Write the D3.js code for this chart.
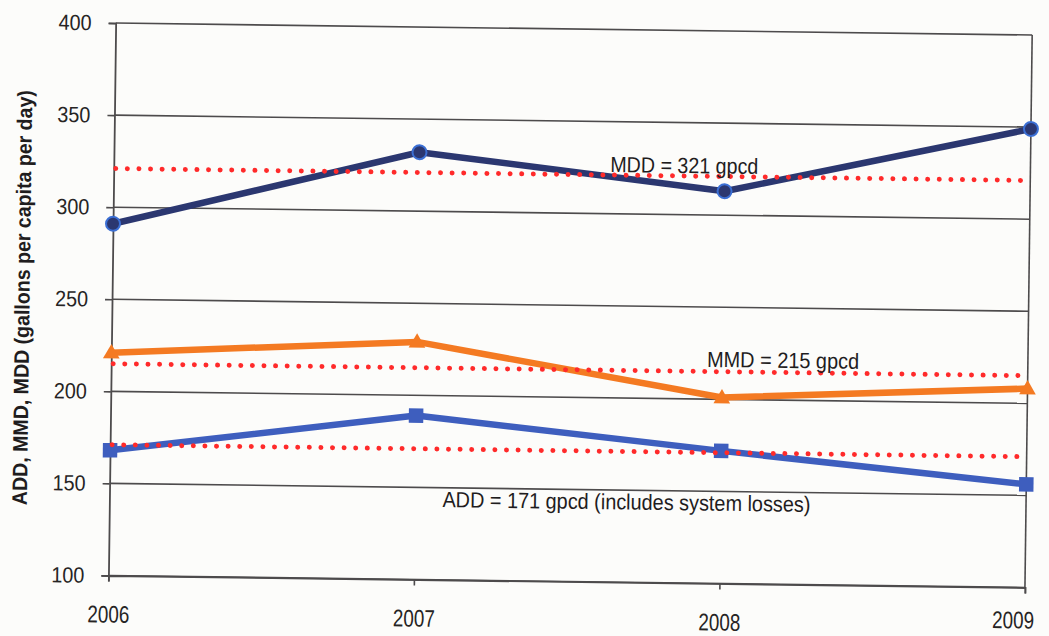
<!DOCTYPE html>
<html>
<head>
<meta charset="utf-8">
<script src="https://cdn.jsdelivr.net/npm/d3@7"></script>
<style>
  body { margin: 0; background: #fcfcfa; }
  svg { display: block; }
</style>
</head>
<body>
<script>
// data
const years = [2006, 2007, 2008, 2009];
const mddValues = [291, 332, 313, 349];
const mmdValues = [221, 229, 201, 208];
const addValues = [168, 189, 172, 156];
const averages = [321, 215, 171];
const averageLabels = ["MDD = 321 gpcd", "MMD = 215 gpcd", "ADD = 171 gpcd (includes system losses)"];
const yTicks = [100, 150, 200, 250, 300, 350, 400];
const yTitle = "ADD, MMD, MDD (gallons per capita per day)";

const width = 1049, height = 636;
const margin = {top: 29, right: 20.4, bottom: 54.5, left: 112};
const innerW = width - margin.left - margin.right;
const innerH = height - margin.top - margin.bottom;

const x = d3.scaleLinear().domain([2006, 2009]).range([0, innerW]);
const y = d3.scaleLinear().domain([100, 400]).range([innerH, 0]);

const svg = d3.select("body").append("svg")
    .attr("width", width)
    .attr("height", height);

svg.append("rect").attr("width", width).attr("height", height).attr("fill", "#fcfcfa");

// the scan is slightly tilted
const page = svg.append("g").attr("transform", "rotate(0.75, 570, 305)");
const g = page.append("g")
    .attr("transform", "translate(" + margin.left + "," + margin.top + ")");

const gridColor = "#4d4b4c";
const font = "'Liberation Sans', Arial, sans-serif";

// horizontal grid lines
g.selectAll(".grid")
    .data(yTicks)
    .enter().append("line")
    .attr("x1", 0).attr("x2", innerW)
    .attr("y1", d => y(d)).attr("y2", d => y(d))
    .attr("stroke", gridColor)
    .attr("stroke-width", 1.6);

// right border
g.append("line")
    .attr("x1", innerW).attr("x2", innerW)
    .attr("y1", 0).attr("y2", innerH)
    .attr("stroke", gridColor).attr("stroke-width", 1.6);

// y axis
const yAxis = g.append("g")
    .call(d3.axisLeft(y).tickValues(yTicks).tickSize(7).tickPadding(17).tickFormat(d3.format("d")));
yAxis.select(".domain").attr("stroke", gridColor).attr("stroke-width", 1.8);
yAxis.selectAll(".tick line").attr("stroke", gridColor).attr("stroke-width", 1.6);
yAxis.selectAll(".tick text")
    .attr("font-family", font)
    .attr("font-size", 22)
    .attr("fill", "#262424")
    .attr("textLength", 33)
    .attr("lengthAdjust", "spacingAndGlyphs");

// x axis
const xAxis = g.append("g")
    .attr("transform", "translate(0," + innerH + ")")
    .call(d3.axisBottom(x).tickValues(years).tickSize(6).tickPadding(24).tickFormat(d3.format("d")));
xAxis.select(".domain").attr("stroke", gridColor).attr("stroke-width", 1.8);
xAxis.selectAll(".tick line").attr("stroke", gridColor).attr("stroke-width", 1.6);
xAxis.selectAll(".tick text")
    .attr("font-family", font)
    .attr("font-size", 24)
    .attr("fill", "#262424")
    .attr("textLength", 42)
    .attr("lengthAdjust", "spacingAndGlyphs")
    .attr("dx", (d, i) => i === years.length - 1 ? -12 : 0)
    .attr("y", (d, i) => i === years.length - 1 ? 24 : 30);

// y axis title
page.append("text")
    .attr("transform", "translate(29.5," + (margin.top + innerH / 2 - 0.5) + ") rotate(-90)")
    .attr("text-anchor", "middle")
    .attr("font-family", font)
    .attr("font-weight", "bold")
    .attr("font-size", 21)
    .attr("fill", "#1f1d1e")
    .attr("textLength", 415)
    .attr("lengthAdjust", "spacingAndGlyphs")
    .text(yTitle);

// series
const series = [
    {values: mddValues, color: "#2b3770", marker: "circle"},
    {values: mmdValues, color: "#f47a22", marker: "triangle"},
    {values: addValues, color: "#3e5ebe", marker: "square"}
];

const line = d3.line()
    .x((d, i) => x(years[i]))
    .y(d => y(d));

series.forEach(s => {
    g.append("path")
        .datum(s.values)
        .attr("fill", "none")
        .attr("stroke", s.color)
        .attr("stroke-width", 6.5)
        .attr("stroke-linejoin", "round")
        .attr("d", line);

    const pts = g.selectAll(null)
        .data(s.values)
        .enter();

    if (s.marker === "circle") {
        pts.append("circle")
            .attr("cx", (d, i) => x(years[i]))
            .attr("cy", d => y(d))
            .attr("r", 7)
            .attr("fill", s.color)
            .attr("stroke", "#3b6fd4")
            .attr("stroke-width", 2);
    } else if (s.marker === "square") {
        pts.append("path")
            .attr("transform", (d, i) => "translate(" + x(years[i]) + "," + y(d) + ")")
            .attr("d", d3.symbol().type(d3.symbolSquare).size(210))
            .attr("fill", s.color);
    } else {
        pts.append("path")
            .attr("transform", (d, i) => "translate(" + x(years[i]) + "," + (y(d) + 1) + ")")
            .attr("d", d3.symbol().type(d3.symbolTriangle).size(120))
            .attr("fill", s.color);
    }
});

// average (dotted) lines
g.selectAll(".avg")
    .data(averages)
    .enter().append("line")
    .attr("x1", x(2006) + 2).attr("x2", x(2009) - 4)
    .attr("y1", d => y(d)).attr("y2", d => y(d))
    .attr("stroke", "#ff2a2a")
    .attr("stroke-width", 5)
    .attr("stroke-linecap", "round")
    .attr("stroke-dasharray", "0 11.6");

// average labels (placed in data units)
const labelSpots = [
    {year: 2007.625, value: 322.6},
    {year: 2007.95, value: 217.5},
    {year: 2007.09, value: 139.5}
];
const labelWidths = [148, 152, 368];

g.selectAll(".avgLabel")
    .data(averageLabels)
    .enter().append("text")
    .attr("x", (d, i) => x(labelSpots[i].year))
    .attr("y", (d, i) => y(labelSpots[i].value))
    .attr("font-family", font)
    .attr("font-size", 22)
    .attr("fill", "#1f1d1e")
    .attr("textLength", (d, i) => labelWidths[i])
    .attr("lengthAdjust", "spacingAndGlyphs")
    .text(d => d);
</script>
</body>
</html>
